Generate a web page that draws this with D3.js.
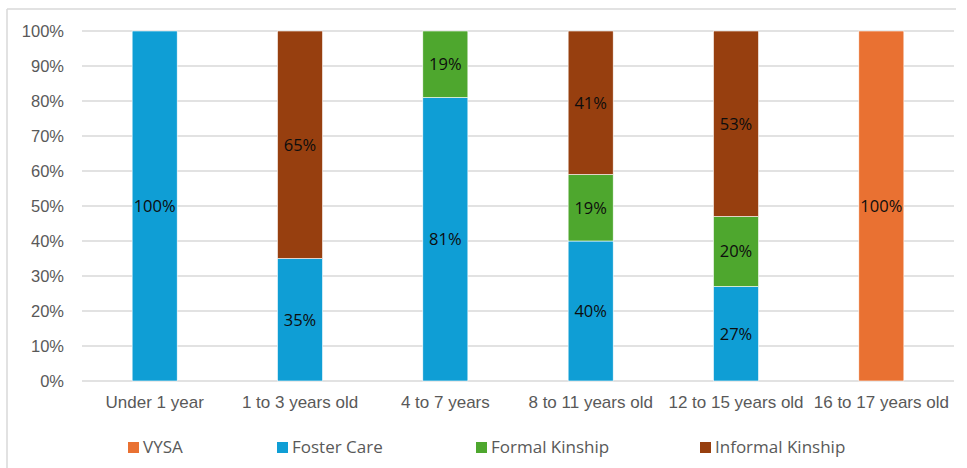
<!DOCTYPE html>
<html>
<head>
<meta charset="utf-8">
<script src="https://cdn.jsdelivr.net/npm/d3@7"></script>
<style>
  body { margin: 0; background: #fff; }
  svg { font-family: "Open Sans", "Liberation Sans", sans-serif; }
</style>
</head>
<body>
<div class="canvas"></div>
<script>
// data
const categories = ['Under 1 year', '1 to 3 years old', '4 to 7 years', '8 to 11 years old', '12 to 15 years old', '16 to 17 years old'];
const seriesNames = ['VYSA', 'Foster Care', 'Formal Kinship', 'Informal Kinship'];
const vysa = [0, 0, 0, 0, 0, 100];
const fosterCare = [100, 35, 81, 40, 27, 0];
const formalKinship = [0, 0, 19, 19, 20, 0];
const informalKinship = [0, 65, 0, 41, 53, 0];
const yTicks = [0, 10, 20, 30, 40, 50, 60, 70, 80, 90, 100];

const colors = {
    'VYSA': '#e97132',
    'Foster Care': '#0f9ed5',
    'Formal Kinship': '#4ea72e',
    'Informal Kinship': '#973f0f'
};

const width = 967, height = 468;
const svg = d3.select('.canvas')
    .append('svg')
    .attr('width', width)
    .attr('height', height);

// chart frame (top + left edge visible)
svg.append('line').attr('x1', 7).attr('x2', 956).attr('y1', 9).attr('y2', 9)
    .attr('stroke', '#d9d9d9').attr('stroke-width', 1.5);
svg.append('line').attr('x1', 7).attr('x2', 7).attr('y1', 9).attr('y2', height)
    .attr('stroke', '#d9d9d9').attr('stroke-width', 1.5);

const margin = { top: 31, left: 82, right: 13, bottom: 87 };
const graphWidth = width - margin.left - margin.right;
const graphHeight = height - margin.top - margin.bottom;

const graph = svg.append('g')
    .attr('transform', `translate(${margin.left}, ${margin.top})`);

const x = d3.scaleBand()
    .domain(categories)
    .range([0, graphWidth])
    .paddingInner(0.69)
    .paddingOuter(0.345);

const y = d3.scaleLinear()
    .domain([0, 100])
    .range([graphHeight, 0]);

// gridlines
graph.append('g')
    .selectAll('line')
    .data(yTicks)
    .enter()
    .append('line')
    .attr('x1', 0)
    .attr('x2', graphWidth)
    .attr('y1', d => y(d))
    .attr('y2', d => y(d))
    .attr('stroke', '#d9d9d9')
    .attr('stroke-width', 1.3);

// y axis
const yAxis = d3.axisLeft(y)
    .tickValues(yTicks)
    .tickSize(0)
    .tickPadding(18)
    .tickFormat(d => `${d}%`);
const yAxisGroup = graph.append('g').call(yAxis);
yAxisGroup.select('.domain').remove();
yAxisGroup.selectAll('text')
    .attr('font-size', 16.5)
    .attr('fill', '#595959');

// x axis
const xAxis = d3.axisBottom(x).tickSize(0).tickPadding(15);
const xAxisGroup = graph.append('g')
    .attr('transform', `translate(0, ${graphHeight})`)
    .call(xAxis);
xAxisGroup.select('.domain').remove();
xAxisGroup.selectAll('text')
    .attr('font-size', 17)
    .attr('fill', '#595959');

// stack: Foster Care at bottom, then Formal, Informal, VYSA
const table = categories.map((c, i) => ({
    category: c,
    'VYSA': vysa[i],
    'Foster Care': fosterCare[i],
    'Formal Kinship': formalKinship[i],
    'Informal Kinship': informalKinship[i]
}));
const stackOrder = ['Foster Care', 'Formal Kinship', 'Informal Kinship', 'VYSA'];
const stacked = d3.stack().keys(stackOrder)(table);

const layers = graph.selectAll('g.layer')
    .data(stacked)
    .enter()
    .append('g')
    .attr('class', 'layer')
    .attr('fill', d => colors[d.key]);

layers.selectAll('rect')
    .data(d => d.filter(s => s[1] - s[0] > 0))
    .enter()
    .append('rect')
    .attr('x', d => x(d.data.category))
    .attr('width', x.bandwidth())
    .attr('y', d => y(d[1]))
    .attr('height', d => y(d[0]) - y(d[1]))
    .attr('stroke', '#fff')
    .attr('stroke-width', 0.6);

// data labels
layers.selectAll('text')
    .data(d => d.filter(s => s[1] - s[0] > 0).map(s => ({ s, key: d.key })))
    .enter()
    .append('text')
    .attr('x', d => x(d.s.data.category) + x.bandwidth() / 2)
    .attr('y', d => y((d.s[0] + d.s[1]) / 2))
    .attr('dy', '0.35em')
    .attr('text-anchor', 'middle')
    .attr('font-size', 16.5)
    .attr('fill', '#0d0d0d')
    .text(d => `${d.s.data[d.key]}%`);

// legend
const legendX = [128, 277, 476, 700];
const legend = svg.append('g')
    .selectAll('g')
    .data(seriesNames)
    .enter()
    .append('g')
    .attr('transform', (d, i) => `translate(${legendX[i]}, 447)`);

legend.append('rect')
    .attr('x', 0)
    .attr('y', -5)
    .attr('width', 11)
    .attr('height', 11)
    .attr('fill', d => colors[d]);

legend.append('text')
    .attr('x', 15)
    .attr('dy', '0.35em')
    .attr('font-size', 17)
    .attr('fill', '#595959')
    .text(d => d);
</script>
</body>
</html>
